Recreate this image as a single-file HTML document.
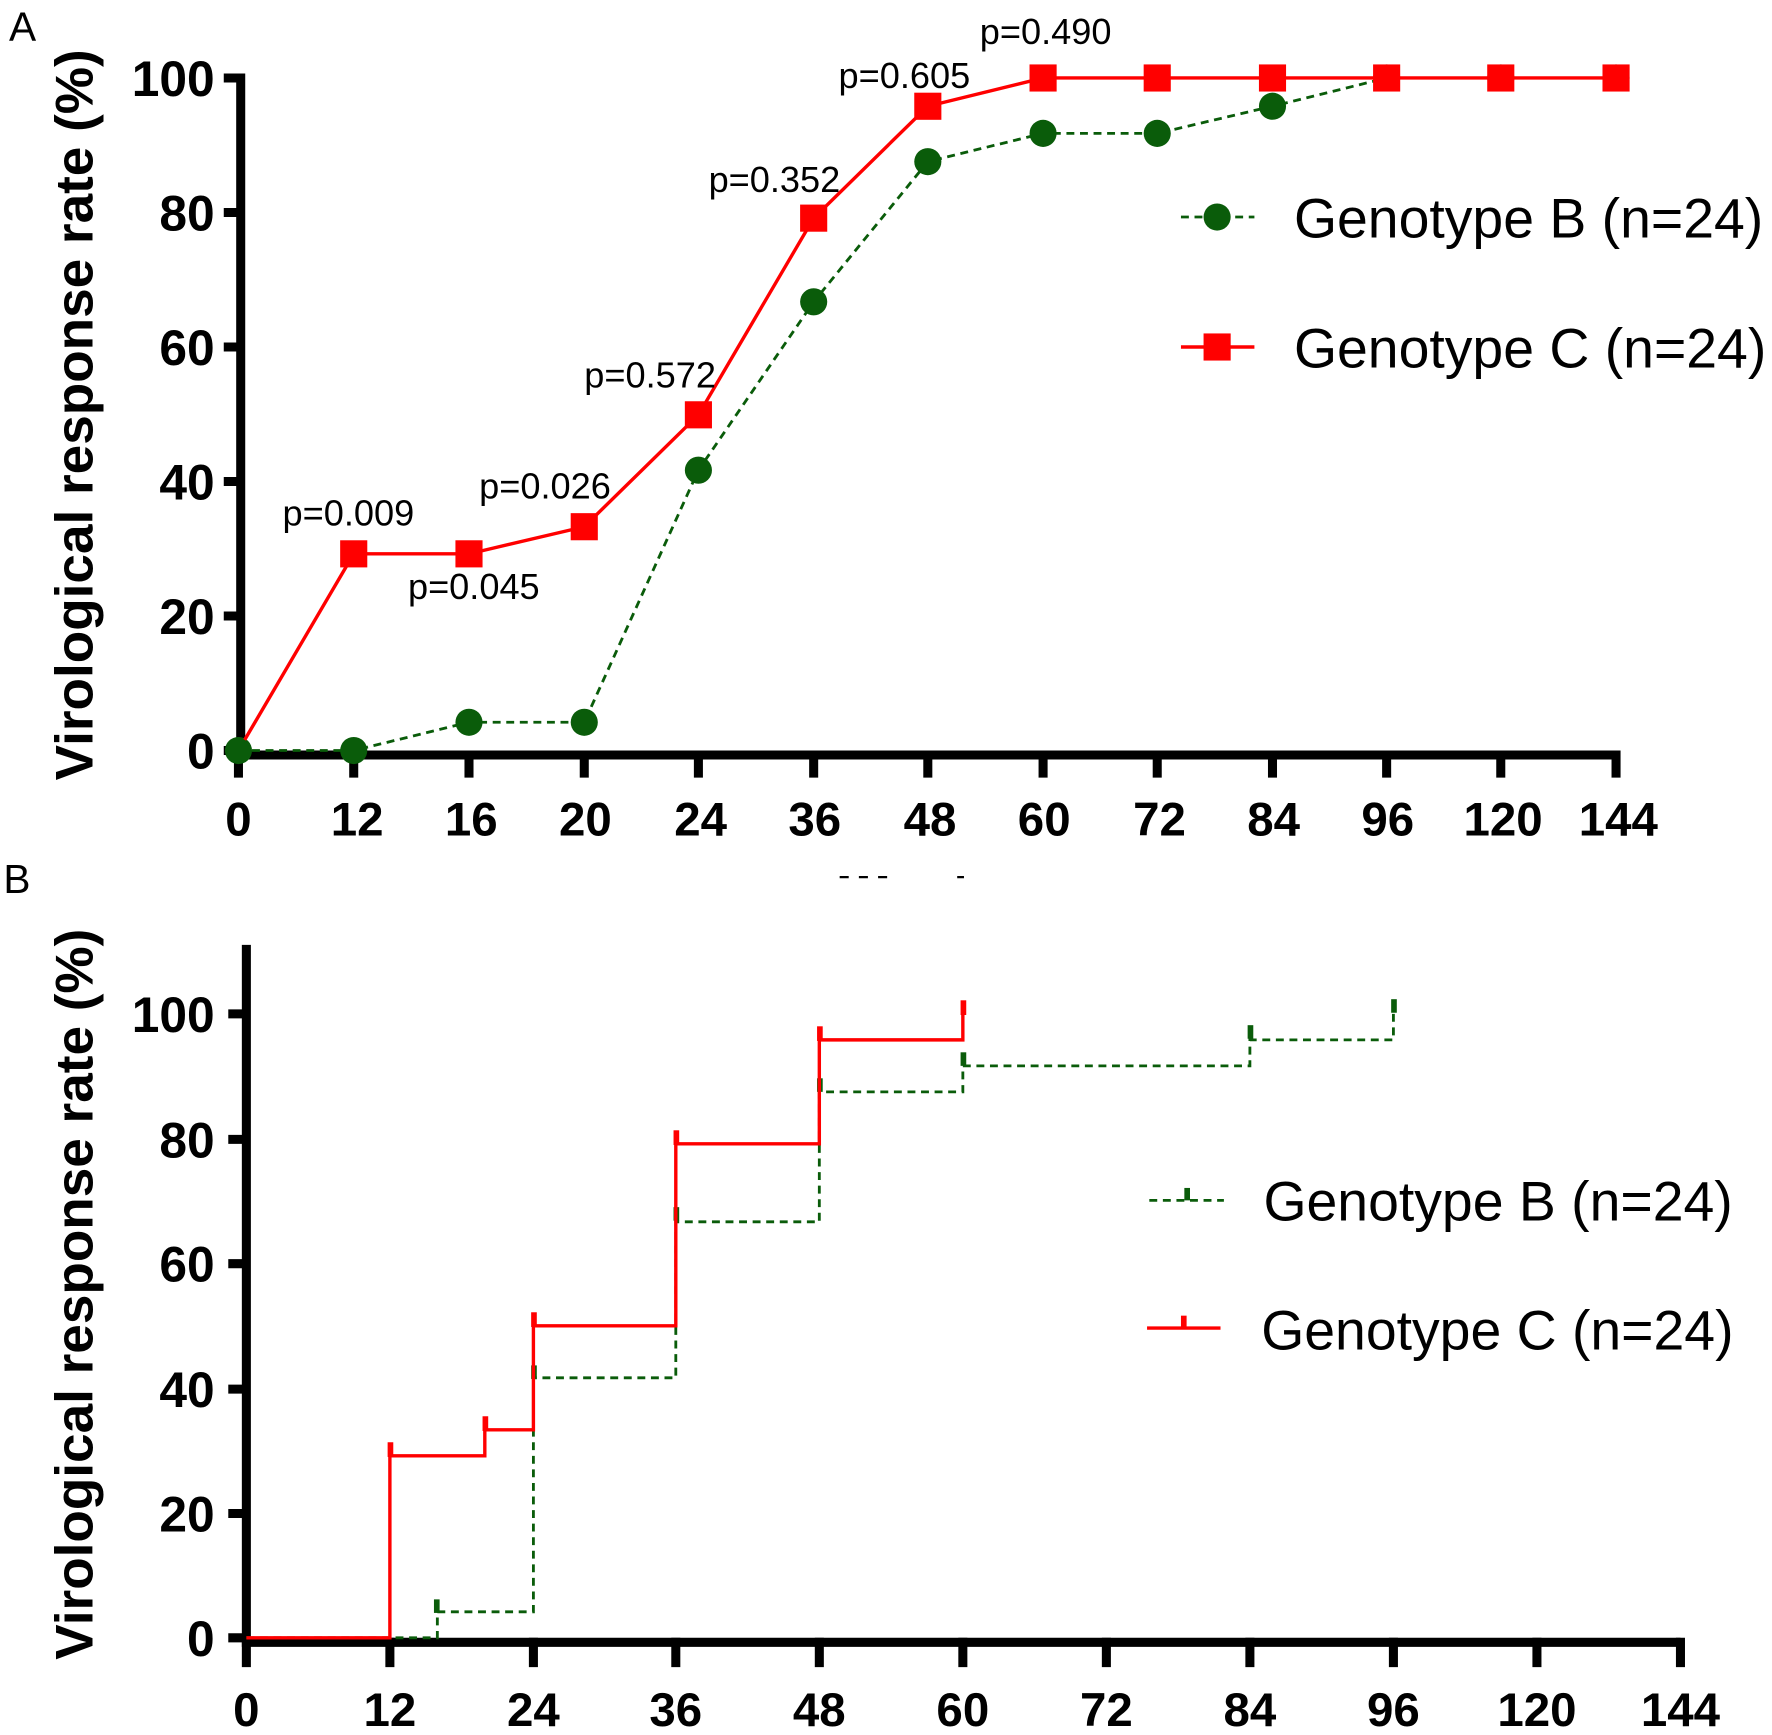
<!DOCTYPE html>
<html><head><meta charset="utf-8"><style>html,body{margin:0;padding:0;background:#fff}svg{display:block}</style></head>
<body>
<svg width="1772" height="1735" viewBox="0 0 1568 1535" preserveAspectRatio="none" xmlns="http://www.w3.org/2000/svg" font-family="Liberation Sans, Arial, sans-serif">
<rect width="1568" height="1535" fill="#fff"/>
<!-- Panel A -->
<text x="8" y="36" font-size="36">A</text>
<text transform="translate(82,367) rotate(-90)" text-anchor="middle" font-size="47" font-weight="bold">Virological response rate (%)</text>
<g stroke="#000" stroke-width="8" fill="none">
<path d="M213,65 V668 H1430"/>
<path d="M198,69H213M198,188H213M198,307H213M198,426H213M198,545H213M198,664H213"/>
<path d="M211,664V688M313,664V688M415,664V688M517,664V688M618,664V688M720,664V688M821,664V688M923,664V688M1024,664V688M1126,664V688M1227,664V688M1328,664V688M1430,664V688"/>
</g>
<g font-size="44" font-weight="bold" text-anchor="end">
<text x="190" y="85">100</text><text x="190" y="204">80</text><text x="190" y="323">60</text><text x="190" y="442">40</text><text x="190" y="561">20</text><text x="190" y="680">0</text>
</g>
<g font-size="42" font-weight="bold" text-anchor="middle">
<text x="211" y="739">0</text><text x="316" y="739">12</text><text x="417" y="739">16</text><text x="518" y="739">20</text><text x="620" y="739">24</text><text x="721" y="739">36</text><text x="823" y="739">48</text><text x="924" y="739">60</text><text x="1026" y="739">72</text><text x="1127" y="739">84</text><text x="1228" y="739">96</text><text x="1330" y="739">120</text><text x="1432" y="739">144</text>
</g>
<polyline fill="none" stroke="#0a5c0a" stroke-width="2.5" stroke-dasharray="7,5" points="211,664 313,664 415,639 517,639 618,416 720,267 821,143 923,118 1024,118 1126,94 1227,69 1328,69 1430,69"/>
<g fill="#0a5c0a">
<circle cx="211" cy="664" r="12"/><circle cx="313" cy="664" r="12"/><circle cx="415" cy="639" r="12"/><circle cx="517" cy="639" r="12"/><circle cx="618" cy="416" r="12"/><circle cx="720" cy="267" r="12"/><circle cx="821" cy="143" r="12"/><circle cx="923" cy="118" r="12"/><circle cx="1024" cy="118" r="12"/><circle cx="1126" cy="94" r="12"/><circle cx="1227" cy="69" r="12"/><circle cx="1328" cy="69" r="12"/><circle cx="1430" cy="69" r="12"/>
</g>
<polyline fill="none" stroke="#f00" stroke-width="3" points="211,664 313,490 415,490 517,466 618,367 720,193 821,94 923,69 1024,69 1126,69 1227,69 1328,69 1430,69"/>
<g fill="#f00">
<rect x="301" y="478" width="24" height="24"/><rect x="403" y="478" width="24" height="24"/><rect x="505" y="454" width="24" height="24"/><rect x="606" y="355" width="24" height="24"/><rect x="708" y="181" width="24" height="24"/><rect x="809" y="82" width="24" height="24"/><rect x="911" y="57" width="24" height="24"/><rect x="1012" y="57" width="24" height="24"/><rect x="1114" y="57" width="24" height="24"/><rect x="1215" y="57" width="24" height="24"/><rect x="1316" y="57" width="24" height="24"/><rect x="1418" y="57" width="24" height="24"/>
</g>
<circle cx="211" cy="664" r="11" fill="#0a5c0a"/>
<g font-size="32">
<text x="250" y="465">p=0.009</text><text x="361" y="530">p=0.045</text><text x="424" y="441">p=0.026</text><text x="517" y="343">p=0.572</text><text x="627" y="170">p=0.352</text><text x="742" y="78">p=0.605</text><text x="867" y="39">p=0.490</text>
</g>
<line x1="1045" y1="192" x2="1110" y2="192" stroke="#0a5c0a" stroke-width="2.5" stroke-dasharray="7,5"/>
<circle cx="1077" cy="192" r="12" fill="#0a5c0a"/>
<text x="1145" y="210" font-size="49">Genotype B (n=24)</text>
<line x1="1045" y1="307" x2="1110" y2="307" stroke="#f00" stroke-width="3"/>
<rect x="1065" y="295" width="24" height="24" fill="#f00"/>
<text x="1145" y="325" font-size="49">Genotype C (n=24)</text>
<g stroke="#000" stroke-width="2"><path d="M743,776h8M760,776h8M777,776h8M847,776h6"/></g>
<!-- Panel B -->
<text x="3" y="790" font-size="36">B</text>
<text transform="translate(82,1145) rotate(-90)" text-anchor="middle" font-size="47" font-weight="bold">Virological response rate (%)</text>
<g stroke="#000" stroke-width="8" fill="none">
<path d="M218,836 V1453 H1487"/>
<path d="M202,897H218M202,1008H218M202,1118H218M202,1229H218M202,1339H218M202,1449H218"/>
<path d="M218,1449V1475M345,1449V1475M472,1449V1475M598,1449V1475M725,1449V1475M852,1449V1475M979,1449V1475M1106,1449V1475M1233,1449V1475M1360,1449V1475M1487,1449V1475"/>
</g>
<g font-size="44" font-weight="bold" text-anchor="end">
<text x="190" y="913">100</text><text x="190" y="1024">80</text><text x="190" y="1134">60</text><text x="190" y="1245">40</text><text x="190" y="1355">20</text><text x="190" y="1465">0</text>
</g>
<g font-size="42" font-weight="bold" text-anchor="middle">
<text x="218" y="1527">0</text><text x="345" y="1527">12</text><text x="472" y="1527">24</text><text x="598" y="1527">36</text><text x="725" y="1527">48</text><text x="852" y="1527">60</text><text x="979" y="1527">72</text><text x="1106" y="1527">84</text><text x="1233" y="1527">96</text><text x="1360" y="1527">120</text><text x="1487" y="1527">144</text>
</g>
<polyline fill="none" stroke="#0a5c0a" stroke-width="2.5" stroke-dasharray="7,5" points="218,1449 387,1449 387,1426 472,1426 472,1219 598,1219 598,1081 725,1081 725,966 852,966 852,943 1106,943 1106,920 1233,920 1233,897"/>
<g fill="#0a5c0a"><rect x="384" y="1415" width="5" height="12"/><rect x="470" y="1208" width="5" height="12"/><rect x="596" y="1068" width="5" height="12"/><rect x="723" y="954" width="5" height="12"/><rect x="850" y="931" width="5" height="12"/><rect x="1104" y="907" width="5" height="12"/><rect x="1231" y="884" width="5" height="12"/></g>
<polyline fill="none" stroke="#f00" stroke-width="3" points="218,1449 345,1449 345,1288 429,1288 429,1265 472,1265 472,1173 598,1173 598,1012 725,1012 725,920 852,920 852,897"/>
<g fill="#f00"><rect x="343" y="1276" width="5" height="13"/><rect x="427" y="1253" width="5" height="13"/><rect x="470" y="1161" width="5" height="13"/><rect x="596" y="1000" width="5" height="13"/><rect x="723" y="908" width="5" height="13"/><rect x="850" y="885" width="5" height="13"/></g>
<line x1="1017" y1="1062" x2="1083" y2="1062" stroke="#0a5c0a" stroke-width="2.5" stroke-dasharray="7,5"/>
<rect x="1048" y="1051" width="5" height="11" fill="#0a5c0a"/>
<text x="1118" y="1080" font-size="49">Genotype B (n=24)</text>
<line x1="1015" y1="1175" x2="1080" y2="1175" stroke="#f00" stroke-width="3"/>
<rect x="1045" y="1164" width="5" height="11" fill="#f00"/>
<text x="1116" y="1194" font-size="49">Genotype C (n=24)</text>
</svg>
</body></html>
